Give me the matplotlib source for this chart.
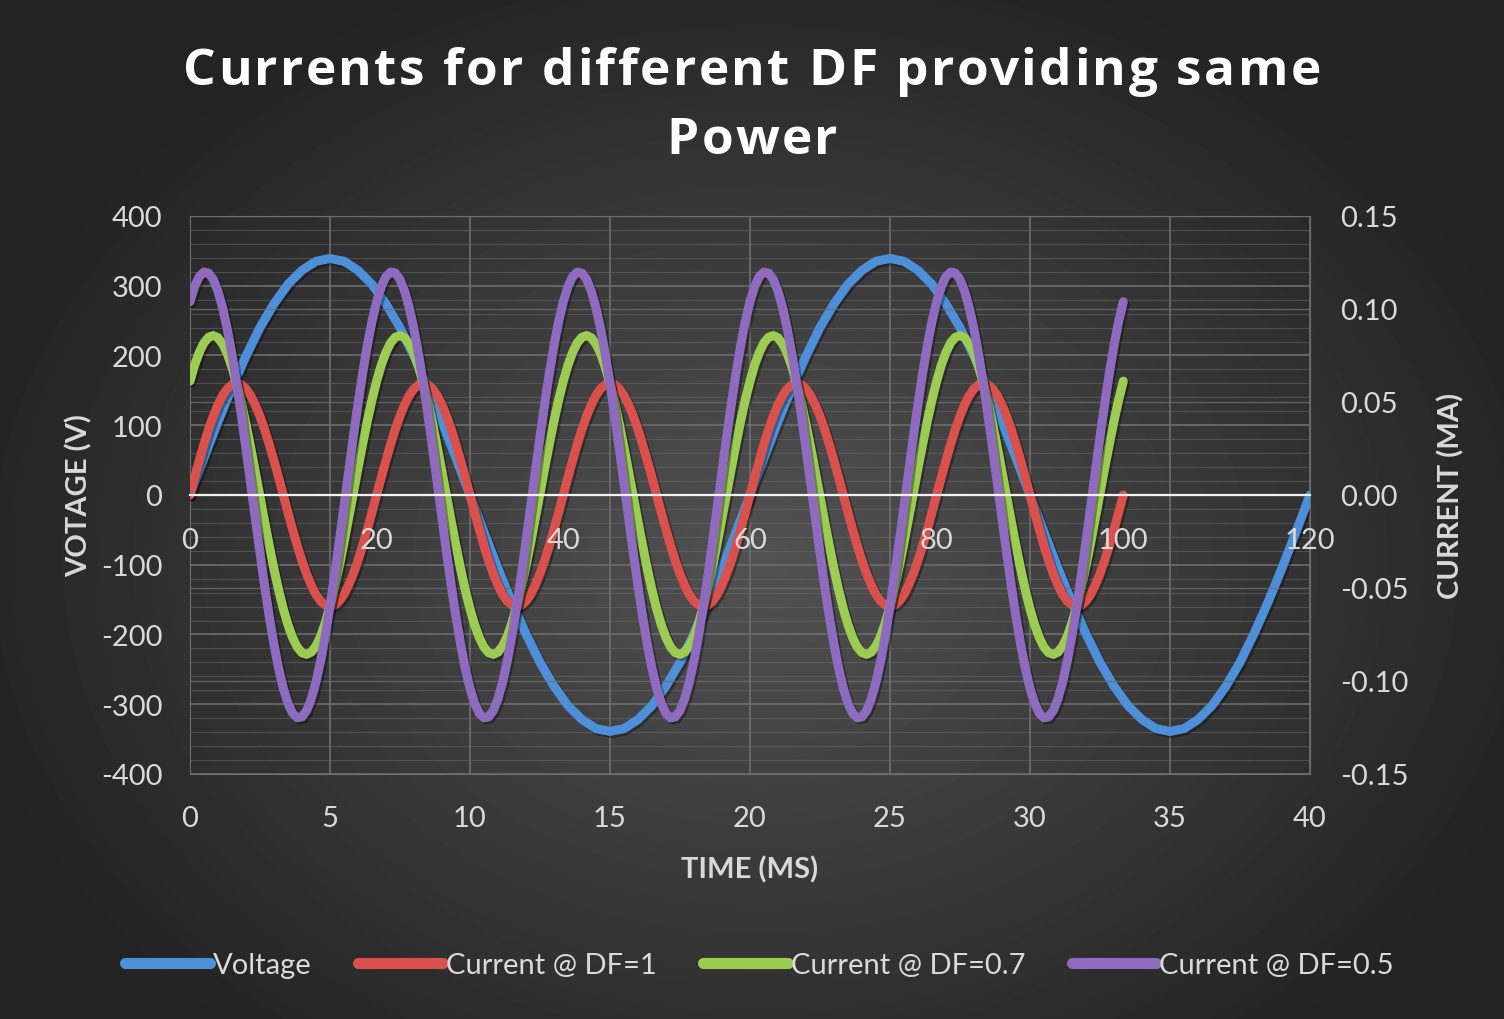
import numpy as np
import matplotlib
matplotlib.use('Agg')
import matplotlib.pyplot as plt
import matplotlib.patheffects as pe

plt.rcParams['font.family'] = ['Lato', 'DejaVu Sans']
plt.rcParams['axes.unicode_minus'] = False

# voltage sampled every 0.5 ms (primary x axis, 0..40 ms)
time_ms = np.linspace(0, 40, 81)
voltage = [0, 53, 105, 154, 199, 240, 274, 302, 322, 335, 339, 335, 322, 302, 274, 240, 199, 154, 105, 53,
           0, -53, -105, -154, -199, -240, -274, -302, -322, -335, -339, -335, -322, -302, -274, -240, -199, -154, -105, -53,
           0, 53, 105, 154, 199, 240, 274, 302, 322, 335, 339, 335, 322, 302, 274, 240, 199, 154, 105, 53,
           0, -53, -105, -154, -199, -240, -274, -302, -322, -335, -339, -335, -322, -302, -274, -240, -199, -154, -105, -53,
           0]

# currents on the secondary x axis (0..120), read every 0.5 unit; one cycle = 20 units,
# the five cycles in the picture are identical
sample_no = np.linspace(0, 100, 201)
cycle_df1 = [0, 0.0094, 0.0185, 0.0272, 0.0353, 0.0424, 0.0485, 0.0535, 0.0571, 0.0593,
             0.06, 0.0593, 0.0571, 0.0535, 0.0485, 0.0424, 0.0353, 0.0272, 0.0185, 0.0094,
             0, -0.0094, -0.0185, -0.0272, -0.0353, -0.0424, -0.0485, -0.0535, -0.0571, -0.0593,
             -0.06, -0.0593, -0.0571, -0.0535, -0.0485, -0.0424, -0.0353, -0.0272, -0.0185, -0.0094]
cycle_df07 = [0.0612, 0.0698, 0.0767, 0.0818, 0.0848, 0.0857, 0.0845, 0.0812, 0.0760, 0.0688,
              0.0600, 0.0497, 0.0381, 0.0257, 0.0126, -0.0008, -0.0143, -0.0273, -0.0397, -0.0511,
              -0.0612, -0.0698, -0.0767, -0.0818, -0.0848, -0.0857, -0.0845, -0.0812, -0.0760, -0.0688,
              -0.0600, -0.0497, -0.0381, -0.0257, -0.0126, 0.0008, 0.0143, 0.0273, 0.0397, 0.0511]
cycle_df05 = [0.1039, 0.1120, 0.1174, 0.1198, 0.1193, 0.1159, 0.1096, 0.1006, 0.0892, 0.0755,
              0.0600, 0.0430, 0.0249, 0.0063, -0.0125, -0.0311, -0.0488, -0.0654, -0.0803, -0.0933,
              -0.1039, -0.1120, -0.1174, -0.1198, -0.1193, -0.1159, -0.1096, -0.1006, -0.0892, -0.0755,
              -0.0600, -0.0430, -0.0249, -0.0063, 0.0125, 0.0311, 0.0488, 0.0654, 0.0803, 0.0933]
current_df1 = cycle_df1 * 5 + cycle_df1[:1]
current_df07 = cycle_df07 * 5 + cycle_df07[:1]
current_df05 = cycle_df05 * 5 + cycle_df05[:1]

names = ['Voltage', 'Current @ DF=1', 'Current @ DF=0.7', 'Current @ DF=0.5']
title_lines = ['Currents for different DF providing same', 'Power']
colors = ['#4d8fd8', '#d9504c', '#9ccc52', '#8e6bbf']
txt = '#d9d9d9'
grid_c = '#6e6e6e'

fig = plt.figure(figsize=(15.04, 10.2), dpi=100)

# radial dark background
bg = fig.add_axes([0, 0, 1, 1], zorder=-10)
yy, xx = np.mgrid[0:1020, 0:1504]
r = np.sqrt(((xx - 760) / 850.0) ** 2 + ((yy - 560) / 650.0) ** 2)
shade = np.clip(0.32 - 0.19 * r, 0.14, 0.32)
bg.imshow(shade, cmap='gray', vmin=0, vmax=1, aspect='auto', interpolation='bilinear')
bg.axis('off')

shadow = [pe.SimpleLineShadow(offset=(1.5, -1.5), shadow_color='black', alpha=0.35), pe.Normal()]

ax = fig.add_axes([0.1263, 0.2402, 0.7447, 0.5471])
ax.patch.set_alpha(0)
l0, = ax.plot(time_ms, voltage, color=colors[0], lw=6.5, solid_capstyle='round', path_effects=shadow, label=names[0])
ax.set_xlim(0, 40)
ax.set_ylim(-400, 400)
ax.set_xticks(range(0, 41, 5))
ax.set_yticks(range(-400, 401, 100))
ax.set_yticks(range(-400, 401, 20), minor=True)
ax.grid(True, which='major', color=grid_c, lw=1.2)
ax.grid(True, which='minor', axis='y', color=grid_c, lw=0.8, alpha=0.5)
ax.tick_params(axis='both', which='both', length=0, colors=txt, labelsize=21)
ax.tick_params(axis='y', pad=20)
ax.tick_params(axis='x', pad=22)
for s in ax.spines.values():
    s.set_color(grid_c)
ax.set_xlabel('TIME (MS)', color=txt, fontsize=21, fontweight='bold', labelpad=18)
ax.set_ylabel('VOTAGE (V)', color=txt, fontsize=21, fontweight='bold', labelpad=6)

ax2 = ax.twinx()
ax2.set_ylim(-0.15, 0.15)
ax2.set_yticks(np.arange(-0.15, 0.151, 0.05))
ax2.set_yticklabels(['%.2f' % v for v in np.arange(-0.15, 0.151, 0.05)])
ax2.grid(True, axis='y', color=grid_c, lw=1.0, alpha=0.8)
ax2.tick_params(axis='y', length=0, colors=txt, labelsize=21, pad=22)
ax2.set_ylabel('CURRENT (MA)', color=txt, fontsize=21, fontweight='bold', labelpad=20)
for s in ax2.spines.values():
    s.set_visible(False)

ax3 = ax2.twiny()
ax3.set_xlim(0, 120)
ax3.set_xticks(range(0, 121, 20))
ax3.xaxis.set_ticks_position('bottom')
ax3.xaxis.set_label_position('bottom')
for k in ['top', 'left', 'right']:
    ax3.spines[k].set_visible(False)
ax3.spines['bottom'].set_position(('data', 0))
ax3.spines['bottom'].set_color('#f2f2f2')
ax3.spines['bottom'].set_linewidth(1.6)
ax3.tick_params(axis='x', length=0, colors=txt, labelsize=21, pad=23)
ax3.xaxis.set_zorder(5)

l1, = ax3.plot(sample_no, current_df1, color=colors[1], lw=6.5, solid_capstyle='round', path_effects=shadow, label=names[1])
l2, = ax3.plot(sample_no, current_df07, color=colors[2], lw=6.5, solid_capstyle='round', path_effects=shadow, label=names[2])
l3, = ax3.plot(sample_no, current_df05, color=colors[3], lw=6.5, solid_capstyle='round', path_effects=shadow, label=names[3])

# letter-spaced title, like the original
renderer = fig.canvas.get_renderer()
tkw = dict(fontsize=37, fontweight='bold', family=['Open Sans', 'DejaVu Sans'], color='white')
def width_px(s):
    t = fig.text(0, 0, s + '|', **tkw)
    w = t.get_window_extent(renderer).width
    t.remove()
    return w
bar_w = width_px('')
spacing = 2.6
for line, yc in zip(title_lines, [0.929, 0.862]):
    offs = [width_px(line[:i]) - bar_w + i * spacing for i in range(len(line))]
    total = width_px(line) - bar_w + (len(line) - 1) * spacing
    x0 = 752 - total / 2.0
    for ch, o in zip(line, offs):
        if ch == ' ':
            continue
        fig.text((x0 + o) / 1504.0, yc, ch, ha='left', va='center', **tkw)

leg = fig.legend([l0, l1, l2, l3], names, loc='center', bbox_to_anchor=(0.505, 0.053), ncol=4,
                 frameon=False, fontsize=21, handlelength=2.9, handletextpad=0.1, columnspacing=1.6)
for t in leg.get_texts():
    t.set_color(txt)
for h in leg.legend_handles:
    h.set_path_effects([])
    h.set_linewidth(8)

fig.savefig('out.png', dpi=100)
